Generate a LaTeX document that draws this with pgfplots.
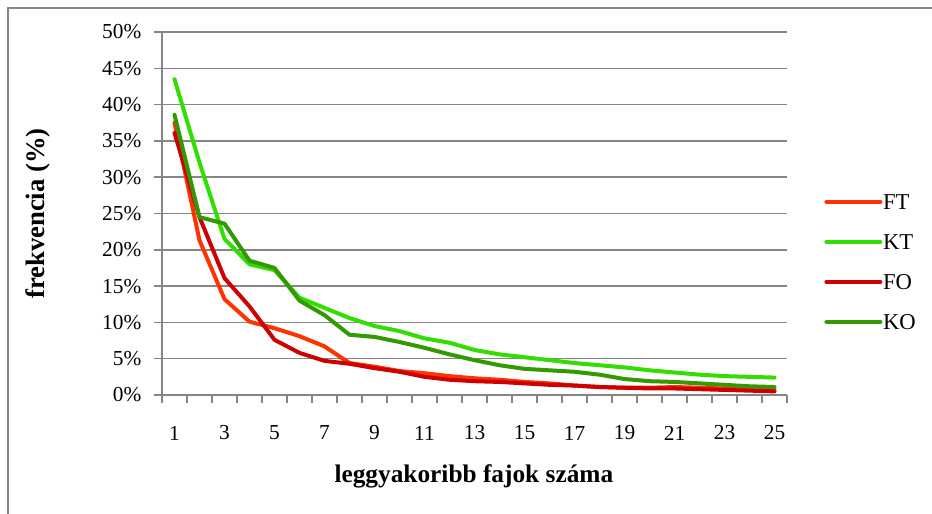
\documentclass[border=0pt]{standalone}
\usepackage{pgfplots}
\pgfplotsset{compat=1.18}
\usepackage{fontspec}
\setmainfont{Liberation Serif}
\definecolor{cFT}{HTML}{FF3300}
\definecolor{cKT}{HTML}{33DD00}
\definecolor{cFO}{HTML}{CC0000}
\definecolor{cKO}{HTML}{339900}
\definecolor{gridgray}{HTML}{868686}
\begin{document}
\begin{tikzpicture}
\useasboundingbox (0,0) rectangle (699pt,385.5pt);
\fill[white] (0,0) rectangle (699pt,385.5pt);
\draw[gridgray, line width=1.5pt] (6pt,-5pt) -- (6pt,379.5pt) -- (710pt,379.5pt);
\begin{axis}[
  at={(121.5pt,89.25pt)}, anchor=south west,
  scale only axis, width=468.75pt, height=272.25pt,
  xmin=0.5, xmax=25.5, ymin=0, ymax=50,
  axis lines=left,
  axis line style={gridgray, line width=1.1pt, -},
  every tick/.style={gridgray, line width=1.1pt},
  tick align=outside,
  xtick={1,3,...,25},
  xticklabels={1,3,5,7,9,11,13,15,17,19,21,23,25},
  minor xtick={0.5,1.5,...,25.5},
  major x tick style={draw=none},
  minor tick length=6pt,
  major tick length=6pt,
  ytick={0,5,...,50},
  yticklabels={0\%,5\%,10\%,15\%,20\%,25\%,30\%,35\%,40\%,45\%,50\%},
  ymajorgrids,
  grid style={gridgray, line width=1.1pt},
  tick label style={font=\fontsize{16}{18}\selectfont},
  xticklabel style={anchor=center, yshift=-22.5pt},
  yticklabel style={anchor=east, xshift=-6pt},
  /pgf/number format/assume math mode=true,
  xlabel={leggyakoribb fajok száma},
  ylabel={frekvencia (\%)},
  xlabel style={font=\bfseries\fontsize{19}{21}\selectfont, at={(axis description cs:0.499,-0.223)}, anchor=center},
  ylabel style={font=\bfseries\fontsize{20}{22}\selectfont, at={(axis description cs:-0.198,0.5)}, anchor=center},
  legend style={at={(axis description cs:1.053,0.562)}, anchor=north west, draw=none, fill=none,
    font=\fontsize{17}{19}\selectfont, row sep=18pt,
    nodes={inner xsep=0.5pt, inner ysep=0pt, text height=12pt, text depth=0pt}},
  legend cell align=left,
  legend image code/.code={\draw[#1, line cap=round] (0pt,0pt) -- (40.5pt,0pt);},
  every axis plot/.append style={line width=3pt, line join=round, line cap=round},
  clip=false,
]
\addplot[cFT] coordinates {(1,37.5)(2,21.3)(3,13.2)(4,10.1)(5,9.2)(6,8.1)(7,6.7)(8,4.4)(9,3.9)(10,3.3)(11,3.0)(12,2.6)(13,2.3)(14,2.1)(15,1.8)(16,1.6)(17,1.3)(18,1.1)(19,1.0)(20,1.0)(21,1.1)(22,1.0)(23,0.9)(24,0.8)(25,0.7)};
\addlegendentry{FT}
\addplot[cKT] coordinates {(1,43.5)(2,32.0)(3,21.5)(4,18.0)(5,17.2)(6,13.4)(7,12.0)(8,10.6)(9,9.5)(10,8.8)(11,7.8)(12,7.2)(13,6.2)(14,5.6)(15,5.2)(16,4.8)(17,4.4)(18,4.1)(19,3.8)(20,3.4)(21,3.1)(22,2.8)(23,2.6)(24,2.5)(25,2.4)};
\addlegendentry{KT}
\addplot[cFO] coordinates {(1,36.1)(2,24.5)(3,16.1)(4,12.2)(5,7.6)(6,5.8)(7,4.7)(8,4.3)(9,3.7)(10,3.2)(11,2.5)(12,2.1)(13,1.9)(14,1.8)(15,1.6)(16,1.4)(17,1.3)(18,1.1)(19,1.0)(20,0.9)(21,0.9)(22,0.8)(23,0.7)(24,0.6)(25,0.5)};
\addlegendentry{FO}
\addplot[cKO] coordinates {(1,38.6)(2,24.5)(3,23.6)(4,18.5)(5,17.5)(6,13.0)(7,11.0)(8,8.3)(9,8.0)(10,7.3)(11,6.5)(12,5.6)(13,4.8)(14,4.1)(15,3.6)(16,3.4)(17,3.2)(18,2.8)(19,2.2)(20,1.9)(21,1.8)(22,1.6)(23,1.4)(24,1.2)(25,1.1)};
\addlegendentry{KO}
\end{axis}
\end{tikzpicture}
\end{document}
